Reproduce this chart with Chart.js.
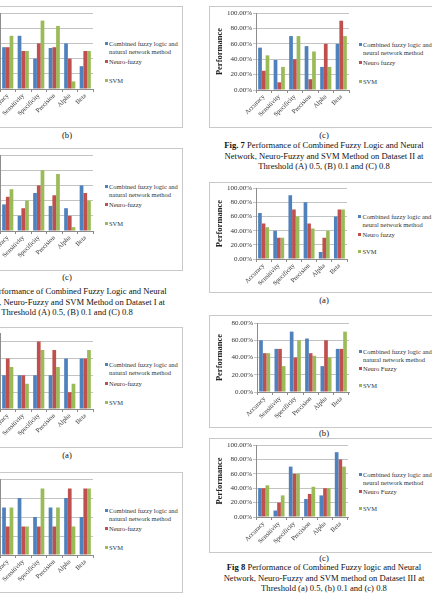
<!DOCTYPE html>
<html>
<head>
<meta charset="utf-8">
<title>Performance of Combined Fuzzy Logic and Neural Network</title>
<script src="https://cdn.jsdelivr.net/npm/chart.js@4.4.1/dist/chart.umd.min.js"></script>
<style>
  html, body { margin: 0; padding: 0; }
  body {
    position: relative;
    width: 432px;
    height: 594px;
    overflow: hidden;
    background: #fff;
    font-family: "Liberation Serif", "Times New Roman", serif;
    color: #111;
  }
  .frame { position: absolute; border: 1px solid #c9c9c9; box-sizing: border-box; }
  canvas { position: absolute; }
  .legend { position: absolute; font-size: 6.5px; line-height: 7.5px; color: #333; }
  .legend div { position: absolute; white-space: nowrap; padding-left: 4.5px; }
  .legend span { position: absolute; left: 0; top: 2.2px; width: 3px; height: 3px; }
  .sub { position: absolute; width: 40px; margin-left: -20px; text-align: center; font-size: 8.6px; line-height: 10px; }
  .caption { position: absolute; width: 260px; margin-left: -130px; text-align: center; font-size: 8.6px; line-height: 10.5px; white-space: nowrap; }
</style>
</head>
<body>

<div class="sub" style="left:67px;top:130px">(b)</div>
<div class="sub" style="left:67px;top:272px">(c)</div>
<div class="caption" style="left:67px;top:286px"><b>Fig. 6</b> Performance of Combined Fuzzy Logic and Neural<br>Network, Neuro-Fuzzy and SVM Method on Dataset I at<br>Threshold (A) 0.5, (B) 0.1 and (C) 0.8</div>
<div class="sub" style="left:67px;top:450px">(a)</div>

<div class="sub" style="left:324px;top:130px">(c)</div>
<div class="caption" style="left:324px;top:140px"><b>Fig. 7</b> Performance of Combined Fuzzy Logic and Neural<br>Network, Neuro-Fuzzy and SVM Method on Dataset II at<br>Threshold (A) 0.5, (B) 0.1 and (C) 0.8</div>
<div class="sub" style="left:324px;top:295px">(a)</div>
<div class="sub" style="left:324px;top:428px">(b)</div>
<div class="sub" style="left:324px;top:553px">(c)</div>
<div class="caption" style="left:324px;top:562px"><b>Fig 8</b> Performance of Combined Fuzzy logic and Neural<br>Network, Neuro-Fuzzy and SVM method on Dataset III at<br>Threshold (a) 0.5, (b) 0.1 and (c) 0.8</div>

<script>
// x axis categories (same for every chart)
const categories = ["Accuracy", "Sensitivity", "Specificity", "Precision", "Alpha", "Beta"];

// y axis ticks, in percent
const ticksTo100 = [0, 10, 20, 30, 40, 50, 60, 70, 80, 90, 100];
const ticksTo90 = [0, 10, 20, 30, 40, 50, 60, 70, 80, 90];
const ticksTo80 = [0, 10, 20, 30, 40, 50, 60, 70, 80];

// Fig. 6 (b) - Dataset I, threshold 0.1
const fig6bCombined = [55, 70, 40, 54, 60, 30];
const fig6bNeuro = [55, 50, 60, 55, 40, 50];
const fig6bSvm = [70, 50, 90, 83, 10, 50];

// Fig. 6 (c) - Dataset I, threshold 0.8
const fig6cCombined = [35, 20, 50, 33, 30, 60];
const fig6cNeuro = [45, 30, 60, 47, 20, 50];
const fig6cSvm = [55, 40, 80, 75, 5, 40];

// Fig. 7 (a) - Dataset II, threshold 0.5
const fig7aCombined = [40, 40, 40, 40, 60, 60];
const fig7aNeuro = [60, 40, 80, 70, 20, 60];
const fig7aSvm = [50, 30, 70, 50, 30, 70];

// Fig. 7 (b) - Dataset II, threshold 0.1
const fig7bCombined = [50, 60, 40, 50, 60, 40];
const fig7bNeuro = [30, 30, 30, 30, 70, 70];
const fig7bSvm = [50, 30, 70, 50, 30, 70];

// Fig. 7 (c) - Dataset II, threshold 0.8
const fig7cCombined = [55, 39, 70, 57, 30, 60];
const fig7cNeuro = [25, 10, 40, 14, 60, 90];
const fig7cSvm = [45, 30, 70, 50, 30, 70];

// Fig. 8 (a) - Dataset III, threshold 0.5
const fig8aCombined = [65, 40, 90, 80, 10, 60];
const fig8aNeuro = [50, 30, 70, 50, 30, 70];
const fig8aSvm = [45, 30, 60, 43, 40, 70];

// Fig. 8 (b) - Dataset III, threshold 0.1
const fig8bCombined = [60, 50, 70, 62, 30, 50];
const fig8bNeuro = [45, 50, 40, 45, 60, 50];
const fig8bSvm = [45, 30, 60, 42, 40, 70];

// Fig. 8 (c) - Dataset III, threshold 0.8
const fig8cCombined = [40, 9, 70, 25, 30, 90];
const fig8cNeuro = [40, 20, 60, 32, 40, 80];
const fig8cSvm = [44, 30, 60, 42, 40, 70];

// legend texts
const namesNatural = [["Combined fuzzy logic and", "natural network method"], ["Neuro-fuzzy"], ["SVM"]];
const namesNeural = [["Combined fuzzy logic and", "neural network method"], ["Neuro fuzzy"], ["SVM"]];
const namesNaturalCap = [["Combined fuzzy logic and", "natural network method"], ["Neuro Fuzzy"], ["SVM"]];
const namesNeuralCap = [["Combined fuzzy logic and", "neural network method"], ["Neuro Fuzzy"], ["SVM"]];

const COLORS = ["#4F81BD", "#C0504D", "#9BBB59"];
const FONT = "'Liberation Serif', 'Times New Roman', serif";

function drawChart(cfg) {
  const { frame, plot, legendX, legendTops, series, names, yTicks } = cfg;

  // chart border
  const box = document.createElement("div");
  box.className = "frame";
  box.style.left = frame.x + "px";
  box.style.top = frame.y + "px";
  box.style.width = frame.w + "px";
  box.style.height = frame.h + "px";
  document.body.appendChild(box);

  // canvas covers the axes and plot, legend is html next to it
  const cx = frame.x + 1;
  const cy = frame.y + 1;
  const cw = plot.r + 6 - cx;
  const ch = frame.h - 2;
  const canvas = document.createElement("canvas");
  canvas.width = cw;
  canvas.height = ch;
  canvas.style.left = cx + "px";
  canvas.style.top = cy + "px";
  canvas.style.width = cw + "px";
  canvas.style.height = ch + "px";
  document.body.appendChild(canvas);

  new Chart(canvas, {
    type: "bar",
    data: {
      labels: categories,
      datasets: series.map((values, i) => ({
        label: names[i].join(" "),
        data: values,
        backgroundColor: COLORS[i],
        borderWidth: 0,
      })),
    },
    options: {
      responsive: false,
      animation: false,
      devicePixelRatio: 1,
      layout: { padding: { top: plot.t - cy, right: cx + cw - plot.r, left: 0, bottom: 0 } },
      datasets: { bar: { categoryPercentage: 0.72, barPercentage: 1 } },
      plugins: { legend: { display: false }, tooltip: { enabled: false } },
      scales: {
        x: {
          grid: { display: true, drawOnChartArea: false, offset: true, tickLength: 3, color: "#8c8c8c" },
          border: { color: "#8c8c8c" },
          ticks: {
            autoSkip: false,
            minRotation: 45,
            maxRotation: 45,
            padding: 0,
            color: "#333",
            font: { family: FONT, size: 6.5 },
          },
          afterFit: (scale) => {
            scale.height = cy + ch - plot.b;
          },
        },
        y: {
          min: 0,
          max: yTicks[yTicks.length - 1],
          afterBuildTicks: (scale) => {
            scale.ticks = yTicks.map((v) => ({ value: v }));
          },
          grid: { color: "#c3c3c3", tickLength: 3 },
          border: { color: "#8c8c8c" },
          ticks: {
            padding: 1,
            color: "#333",
            font: { family: FONT, size: 7 },
            callback: (v) => Number(v).toFixed(2) + "%",
          },
          title: {
            display: true,
            text: "Performance",
            color: "#222",
            padding: { top: 5, bottom: 0 },
            font: { family: FONT, size: 8.5, weight: "bold" },
          },
          afterFit: (scale) => {
            scale.width = plot.l - cx;
          },
        },
      },
    },
  });

  // legend
  const legend = document.createElement("div");
  legend.className = "legend";
  legend.style.left = legendX + "px";
  legend.style.top = frame.y + "px";
  names.forEach((lines, i) => {
    const item = document.createElement("div");
    item.style.top = legendTops[i] + "px";
    item.innerHTML = `<span style="background:${COLORS[i]}"></span>` + lines.join("<br>");
    legend.appendChild(item);
  });
  document.body.appendChild(legend);
}

// left column (y axis runs off the page)
drawChart({
  frame: { x: -60, y: 6, w: 243, h: 122 },
  plot: { l: 0, t: 13, r: 93, b: 89 },
  legendX: 104.5, legendTops: [34, 52, 71],
  series: [fig6bCombined, fig6bNeuro, fig6bSvm], names: namesNatural, yTicks: ticksTo100,
});
drawChart({
  frame: { x: -60, y: 148, w: 243, h: 123 },
  plot: { l: 0, t: 155, r: 93, b: 231 },
  legendX: 104.5, legendTops: [35, 53, 72],
  series: [fig6cCombined, fig6cNeuro, fig6cSvm], names: namesNatural, yTicks: ticksTo100,
});
drawChart({
  frame: { x: -60, y: 327, w: 243, h: 121 },
  plot: { l: 0, t: 333, r: 93, b: 409 },
  legendX: 104.5, legendTops: [34, 53, 72],
  series: [fig7aCombined, fig7aNeuro, fig7aSvm], names: namesNatural, yTicks: ticksTo90,
});
drawChart({
  frame: { x: -60, y: 472, w: 243, h: 121 },
  plot: { l: 0, t: 479, r: 93, b: 555 },
  legendX: 104.5, legendTops: [35, 53, 72],
  series: [fig7bCombined, fig7bNeuro, fig7bSvm], names: namesNatural, yTicks: ticksTo80,
});

// right column
drawChart({
  frame: { x: 209, y: 6, w: 240, h: 122 },
  plot: { l: 256, t: 13, r: 349, b: 90 },
  legendX: 358.5, legendTops: [35, 53, 72],
  series: [fig7cCombined, fig7cNeuro, fig7cSvm], names: namesNeural, yTicks: ticksTo100,
});
drawChart({
  frame: { x: 209, y: 182, w: 240, h: 111 },
  plot: { l: 256, t: 187, r: 347, b: 259 },
  legendX: 358, legendTops: [31, 49, 66],
  series: [fig8aCombined, fig8aNeuro, fig8aSvm], names: namesNeural, yTicks: ticksTo100,
});
drawChart({
  frame: { x: 209, y: 315, w: 240, h: 113 },
  plot: { l: 257, t: 323, r: 349, b: 392 },
  legendX: 358.5, legendTops: [33, 50, 67],
  series: [fig8bCombined, fig8bNeuro, fig8bSvm], names: namesNaturalCap, yTicks: ticksTo80,
});
drawChart({
  frame: { x: 209, y: 438, w: 240, h: 115 },
  plot: { l: 256, t: 445, r: 348, b: 517 },
  legendX: 358.5, legendTops: [33, 50, 67],
  series: [fig8cCombined, fig8cNeuro, fig8cSvm], names: namesNeuralCap, yTicks: ticksTo100,
});
</script>
</body>
</html>
